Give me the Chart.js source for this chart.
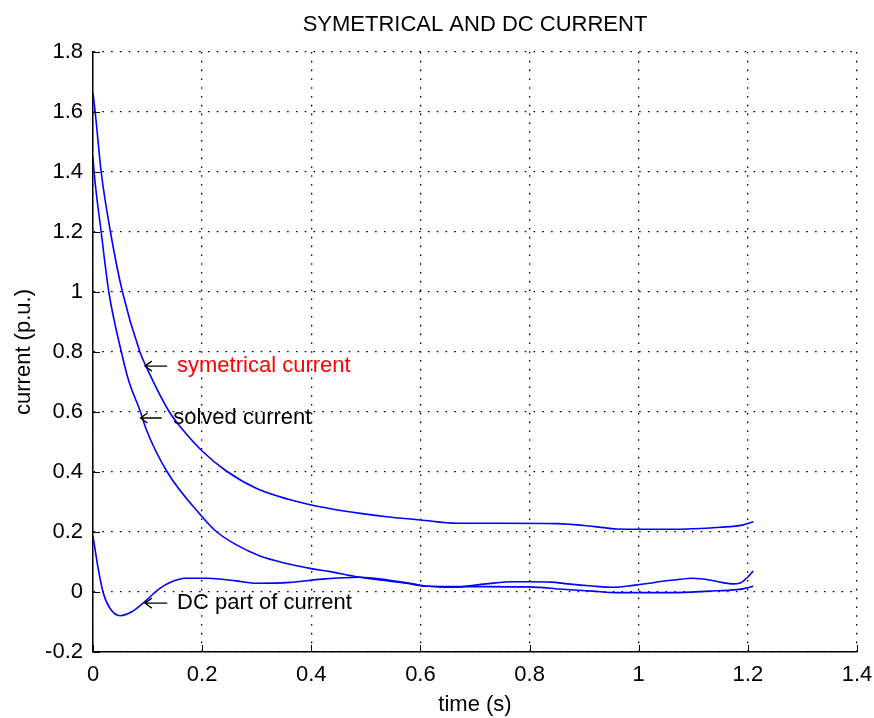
<!DOCTYPE html>
<html>
<head>
<meta charset="utf-8">
<script src="https://cdn.jsdelivr.net/npm/chart.js@4"></script>
<style>
  body { margin: 0; background: #fff; }
</style>
</head>
<body>
<canvas id="myChart" width="874" height="718"></canvas>
<script>
// values
const symTime = [0, 0.004, 0.015, 0.032, 0.054, 0.086, 0.097, 0.14, 0.165, 0.2, 0.243, 0.3, 0.36, 0.4, 0.44, 0.49, 0.538, 0.6, 0.667, 0.75, 0.85, 0.92, 0.96, 1.06, 1.15, 1.19, 1.21]
const symCurrent = [1.663, 1.6, 1.4, 1.2, 1.0, 0.8, 0.753, 0.6, 0.54, 0.47, 0.405, 0.345, 0.308, 0.29, 0.276, 0.262, 0.251, 0.24, 0.229, 0.229, 0.228, 0.218, 0.21, 0.209, 0.216, 0.223, 0.234]

const solvedTime = [0, 0.002, 0.015, 0.029, 0.052, 0.065, 0.087, 0.098, 0.136, 0.2, 0.227, 0.263, 0.306, 0.355, 0.4, 0.435, 0.483, 0.526, 0.575, 0.606, 0.7, 0.8, 0.86, 0.915, 0.96, 1.06, 1.13, 1.18, 1.195, 1.21]
const solvedCurrent = [1.45, 1.4, 1.2, 1.0, 0.8, 0.707, 0.6, 0.54, 0.4, 0.251, 0.2, 0.157, 0.12, 0.095, 0.078, 0.068, 0.051, 0.04, 0.029, 0.02, 0.018, 0.017, 0.009, 0.003, -0.002, -0.002, 0.003, 0.008, 0.012, 0.019]

const dcTime = [0, 0.01, 0.019, 0.031, 0.05, 0.071, 0.095, 0.12, 0.144, 0.169, 0.21, 0.263, 0.3, 0.361, 0.42, 0.49, 0.54, 0.575, 0.61, 0.66, 0.72, 0.77, 0.8, 0.84, 0.87, 0.915, 0.955, 0.99, 1.02, 1.04, 1.065, 1.1, 1.13, 1.152, 1.172, 1.186, 1.2, 1.21]
const dcCurrent = [0.185, 0.073, -0.004, -0.054, -0.079, -0.066, -0.032, 0.009, 0.034, 0.046, 0.046, 0.037, 0.029, 0.032, 0.043, 0.049, 0.04, 0.031, 0.02, 0.016, 0.027, 0.034, 0.034, 0.033, 0.027, 0.02, 0.016, 0.022, 0.029, 0.035, 0.04, 0.046, 0.04, 0.032, 0.027, 0.03, 0.05, 0.07]

const xTicks = [0, 0.2, 0.4, 0.6, 0.8, 1, 1.2, 1.4]
const xTickLabels = ['0', '0.2', '0.4', '0.6', '0.8', '1', '1.2', '1.4']
const yTicks = [-0.2, 0, 0.2, 0.4, 0.6, 0.8, 1, 1.2, 1.4, 1.6, 1.8]
const yTickLabels = ['-0.2', '0', '0.2', '0.4', '0.6', '0.8', '1', '1.2', '1.4', '1.6', '1.8']

const FONT = '"Liberation Sans", Arial, Helvetica, sans-serif'

const toPoints = (xs, ys) => xs.map((x, i) => ({ x: x, y: ys[i] }))

// text labels with arrows, in data coordinates
const notes = [
  { text: 'symetrical current', color: '#ff0000', head: [0.095, 0.753], tail: 0.136, textX: 0.154 },
  { text: 'solved current', color: '#000000', head: [0.087, 0.58], tail: 0.126, textX: 0.147 },
  { text: 'DC part of current', color: '#000000', head: [0.095, -0.037], tail: 0.136, textX: 0.154 }
]

const notesPlugin = {
  id: 'notes',
  afterDatasetsDraw(chart) {
    const ctx = chart.ctx
    const xs = chart.scales.x
    const ys = chart.scales.y
    const area = chart.chartArea
    ctx.save()
    // inward tick marks
    ctx.strokeStyle = '#000'
    ctx.lineWidth = 1
    ctx.beginPath()
    yTicks.forEach(v => {
      const y = Math.round(ys.getPixelForValue(v)) + 0.5
      ctx.moveTo(area.left, y)
      ctx.lineTo(area.left + 7, y)
    })
    xTicks.forEach(v => {
      const x = Math.round(xs.getPixelForValue(v)) + 0.5
      ctx.moveTo(x, area.bottom)
      ctx.lineTo(x, area.bottom - 7)
    })
    ctx.stroke()

    notes.forEach(n => {
      const hx = xs.getPixelForValue(n.head[0])
      const hy = ys.getPixelForValue(n.head[1])
      const tx = xs.getPixelForValue(n.tail)
      ctx.strokeStyle = '#000'
      ctx.lineWidth = 1.3
      ctx.beginPath()
      ctx.moveTo(tx, hy)
      ctx.lineTo(hx, hy)
      ctx.moveTo(hx + 7, hy - 5)
      ctx.lineTo(hx, hy)
      ctx.lineTo(hx + 7, hy + 5)
      ctx.stroke()
      ctx.fillStyle = n.color
      ctx.font = '22px ' + FONT
      ctx.textAlign = 'left'
      ctx.textBaseline = 'middle'
      ctx.fillText(n.text, xs.getPixelForValue(n.textX), hy)
    })
    ctx.restore()
  }
}

const lineStyle = {
  borderColor: '#0000ff',
  borderWidth: 1.6,
  pointRadius: 0,
  fill: false,
  cubicInterpolationMode: 'monotone'
}

const ctx = document.getElementById('myChart').getContext('2d')
const myChart = new Chart(ctx, {
  type: 'line',
  data: {
    datasets: [
      Object.assign({ label: 'symetrical current', data: toPoints(symTime, symCurrent) }, lineStyle),
      Object.assign({ label: 'solved current', data: toPoints(solvedTime, solvedCurrent) }, lineStyle),
      Object.assign({ label: 'DC part of current', data: toPoints(dcTime, dcCurrent) }, lineStyle)
    ]
  },
  options: {
    responsive: false,
    animation: false,
    layout: { padding: { left: 0, top: 0, right: 17, bottom: 0 } },
    plugins: {
      legend: { display: false },
      tooltip: { enabled: false },
      title: {
        display: true,
        text: 'SYMETRICAL AND DC CURRENT',
        fullSize: false,
        color: '#000',
        font: { family: FONT, size: 22, weight: 'normal' },
        padding: { top: 12, bottom: 13.6 }
      }
    },
    scales: {
      x: {
        type: 'linear',
        min: 0,
        max: 1.4,
        afterBuildTicks: s => { s.ticks = xTicks.map(v => ({ value: v })) },
        afterFit: s => { s.height = 66; s.paddingLeft = 0; s.paddingRight = 0 },
        ticks: {
          color: '#000',
          padding: 10,
          maxRotation: 0,
          autoSkip: false,
          font: { family: FONT, size: 22 },
          callback: (v, i) => xTickLabels[i]
        },
        grid: { color: '#000', lineWidth: 1.3, drawTicks: false },
        border: { color: '#000', width: 1.5, dash: [1.6, 7.2] },
        title: {
          display: true,
          text: 'time (s)',
          color: '#000',
          font: { family: FONT, size: 22 },
          padding: { top: 0, bottom: 0 }
        }
      },
      y: {
        type: 'linear',
        min: -0.2,
        max: 1.8,
        afterBuildTicks: s => { s.ticks = yTicks.map(v => ({ value: v })) },
        afterFit: s => { s.width = 93; s.paddingTop = 0; s.paddingBottom = 0 },
        ticks: {
          color: '#000',
          padding: 10,
          autoSkip: false,
          font: { family: FONT, size: 22 },
          callback: (v, i) => yTickLabels[i]
        },
        grid: { color: '#000', lineWidth: 1.3, drawTicks: false },
        border: { color: '#000', width: 1.5, dash: [1.6, 7.2] },
        title: {
          display: true,
          text: 'current (p.u.)',
          color: '#000',
          font: { family: FONT, size: 22 },
          padding: { top: 11, bottom: 0 }
        }
      }
    }
  },
  plugins: [notesPlugin]
})
</script>
</body>
</html>
